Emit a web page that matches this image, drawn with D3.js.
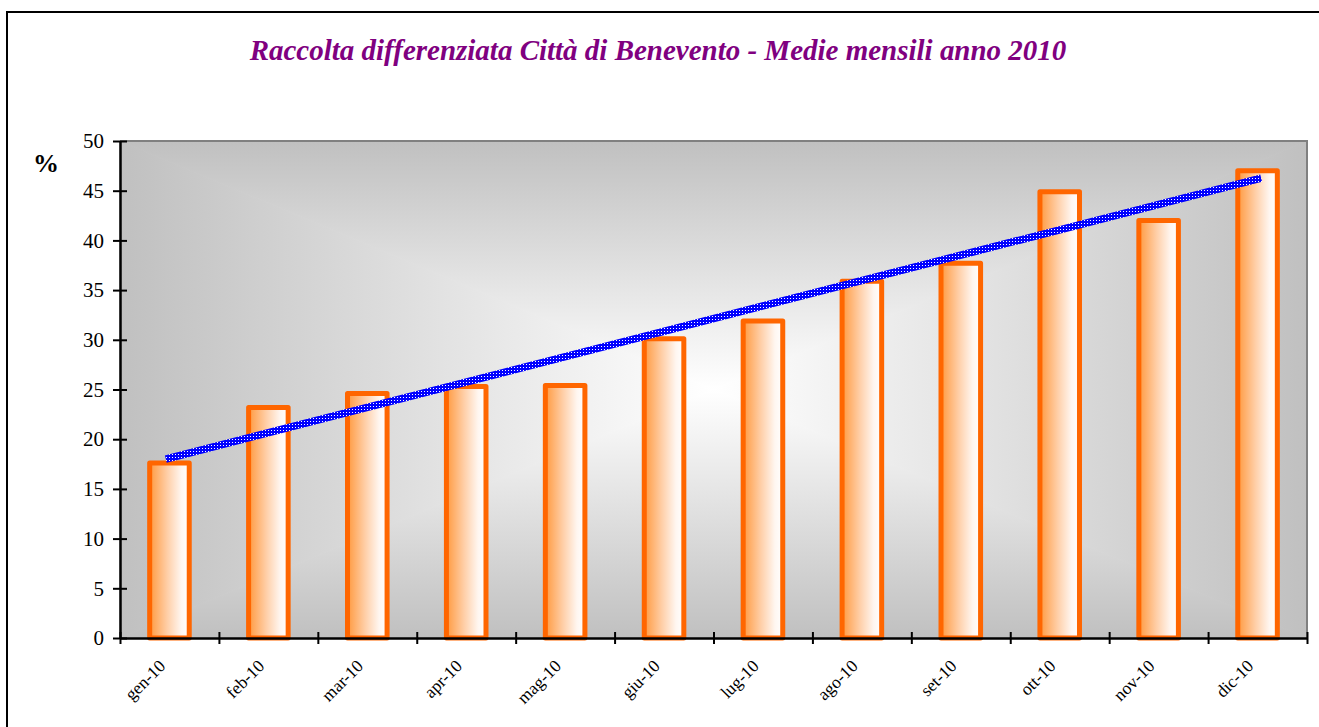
<!DOCTYPE html>
<html>
<head>
<meta charset="utf-8">
<script src="https://cdn.jsdelivr.net/npm/d3@7"></script>
<style>
  body { margin: 0; background: #fff; }
  svg { display: block; }
</style>
</head>
<body>
<script>
'use strict'

const months = ['gen-10', 'feb-10', 'mar-10', 'apr-10', 'mag-10', 'giu-10',
  'lug-10', 'ago-10', 'set-10', 'ott-10', 'nov-10', 'dic-10']
const values = [17.6, 23.2, 24.6, 25.3, 25.4, 30.1, 31.9, 35.9, 37.7, 44.9, 42.0, 47.0]
const yTicks = [0, 5, 10, 15, 20, 25, 30, 35, 40, 45, 50]
const titleText = 'Raccolta differenziata Città di Benevento - Medie mensili anno 2010'

const serif = "'Book Antiqua', 'Palatino Linotype', 'Liberation Serif', 'Times New Roman', serif"
const width = 1319
const height = 727
const plot = { left: 120, right: 1307, top: 141, bottom: 638 }

const svg = d3.select('body').append('svg')
  .attr('width', width)
  .attr('height', height)

const defs = svg.append('defs')

// outer frame (runs off the right and bottom edge)
svg.append('rect')
  .attr('x', 7)
  .attr('y', 12)
  .attr('width', 1400)
  .attr('height', 800)
  .attr('fill', 'none')
  .attr('stroke', '#000')
  .attr('stroke-width', 2)

// title, fitted to the width it has in the picture
const title = svg.append('text')
  .attr('x', 658)
  .attr('y', 60)
  .attr('text-anchor', 'middle')
  .attr('font-family', serif)
  .attr('font-style', 'italic')
  .attr('font-weight', 'bold')
  .attr('font-size', 26)
  .attr('fill', '#800080')
  .text(titleText)
const tw = title.node().getComputedTextLength()
title.attr('font-size', 26 * 817 / tw)

// background of the plot area: gradient from the centre to the edges
const cx = (plot.left + plot.right) / 2
const cy = (plot.top + plot.bottom) / 2
const sides = [
  { pts: [[plot.left, plot.top], [plot.right, plot.top]], to: [cx, plot.top] },
  { pts: [[plot.right, plot.top], [plot.right, plot.bottom]], to: [plot.right, cy] },
  { pts: [[plot.right, plot.bottom], [plot.left, plot.bottom]], to: [cx, plot.bottom] },
  { pts: [[plot.left, plot.bottom], [plot.left, plot.top]], to: [plot.left, cy] }
]

sides.forEach(function (s, i) {
  const g = defs.append('linearGradient')
    .attr('id', 'bg' + i)
    .attr('gradientUnits', 'userSpaceOnUse')
    .attr('x1', cx).attr('y1', cy)
    .attr('x2', s.to[0]).attr('y2', s.to[1])
  g.append('stop').attr('offset', 0).attr('stop-color', '#ffffff')
  g.append('stop').attr('offset', 1).attr('stop-color', '#c0c0c0')
})

svg.append('g').selectAll('polygon')
  .data(sides)
  .enter()
  .append('polygon')
  .attr('points', d => d.pts.concat([[cx, cy]]).map(p => p.join(',')).join(' '))
  .attr('fill', (d, i) => 'url(#bg' + i + ')')
  .attr('stroke', (d, i) => 'url(#bg' + i + ')')
  .attr('stroke-width', 1)

// gray border on top and right
svg.append('path')
  .attr('d', 'M' + plot.left + ',' + plot.top + 'H' + plot.right + 'V' + plot.bottom)
  .attr('fill', 'none')
  .attr('stroke', '#808080')
  .attr('stroke-width', 2)

const x = d3.scaleBand()
  .domain(months)
  .range([plot.left, plot.right])
  .paddingInner(0.6)
  .paddingOuter(0.3)

const xEdge = d3.scaleLinear()
  .domain([0, months.length])
  .range([plot.left, plot.right])

const y = d3.scaleLinear()
  .domain([0, 50])
  .range([plot.bottom, plot.top])

// bars
const barGrad = defs.append('linearGradient')
  .attr('id', 'barGrad')
  .attr('x1', 0).attr('y1', 0)
  .attr('x2', 1).attr('y2', 0)
barGrad.append('stop').attr('offset', 0).attr('stop-color', '#ff9a40')
barGrad.append('stop').attr('offset', 0.45).attr('stop-color', '#ffcfa8')
barGrad.append('stop').attr('offset', 0.8).attr('stop-color', '#fff6f0')
barGrad.append('stop').attr('offset', 1).attr('stop-color', '#ffffff')

svg.append('g').selectAll('rect')
  .data(values)
  .enter()
  .append('rect')
  .attr('x', (d, i) => x(months[i]))
  .attr('y', d => y(d))
  .attr('width', x.bandwidth())
  .attr('height', d => y(0) - y(d))
  .attr('fill', 'url(#barGrad)')
  .attr('stroke', '#ff6600')
  .attr('stroke-width', 5)
  .attr('stroke-linejoin', 'round')

// linear trend line
const dots = defs.append('pattern')
  .attr('id', 'dots')
  .attr('patternUnits', 'userSpaceOnUse')
  .attr('width', 3)
  .attr('height', 3)
dots.append('rect').attr('width', 3).attr('height', 3).attr('fill', '#0000ff')
dots.append('rect').attr('x', 1).attr('y', 1).attr('width', 1).attr('height', 1).attr('fill', '#ffffff')

const idx = values.map((v, i) => i + 1)
const mx = d3.mean(idx)
const my = d3.mean(values)
const slope = d3.sum(idx, (k, i) => (k - mx) * (values[i] - my)) / d3.sum(idx, k => (k - mx) * (k - mx))
const icpt = my - slope * mx
const trend = [1, months.length].map(k => [x(months[k - 1]) + x.bandwidth() / 2, y(icpt + slope * k)])

svg.append('path')
  .attr('d', d3.line()(trend))
  .attr('fill', 'none')
  .attr('stroke', 'url(#dots)')
  .attr('stroke-width', 7.5)
  .attr('stroke-linecap', 'square')

// axes
const yAxis = svg.append('g')
  .attr('transform', 'translate(' + plot.left + ',0)')
  .call(d3.axisLeft(y).tickValues(yTicks).tickSize(7).tickSizeOuter(0).tickPadding(9))
yAxis.select('.domain').attr('stroke-width', 2.5)
yAxis.selectAll('.tick line').attr('x1', 7).attr('stroke-width', 2)
yAxis.selectAll('.tick text')
  .attr('font-family', serif)
  .attr('font-size', 21)
  .attr('fill', '#000')

const xAxis = svg.append('g')
  .attr('transform', 'translate(0,' + plot.bottom + ')')
  .call(d3.axisBottom(xEdge).tickValues(d3.range(months.length + 1)).tickFormat(() => '').tickSize(6).tickSizeOuter(0))
xAxis.select('.domain').attr('stroke-width', 2.5)
xAxis.selectAll('.tick line').attr('y1', -6).attr('stroke-width', 2)

svg.append('g').selectAll('text')
  .data(months)
  .enter()
  .append('text')
  .attr('transform', d => 'translate(' + (x(d) + x.bandwidth() / 2 - 3) + ',' + (plot.bottom + 29) + ') rotate(-45)')
  .attr('text-anchor', 'end')
  .attr('font-family', serif)
  .attr('font-size', 17.5)
  .attr('fill', '#000')
  .text(d => d)

svg.append('text')
  .attr('x', 33)
  .attr('y', 172)
  .attr('font-family', serif)
  .attr('font-weight', 'bold')
  .attr('font-size', 26)
  .attr('fill', '#000')
  .text('%')
</script>
</body>
</html>
